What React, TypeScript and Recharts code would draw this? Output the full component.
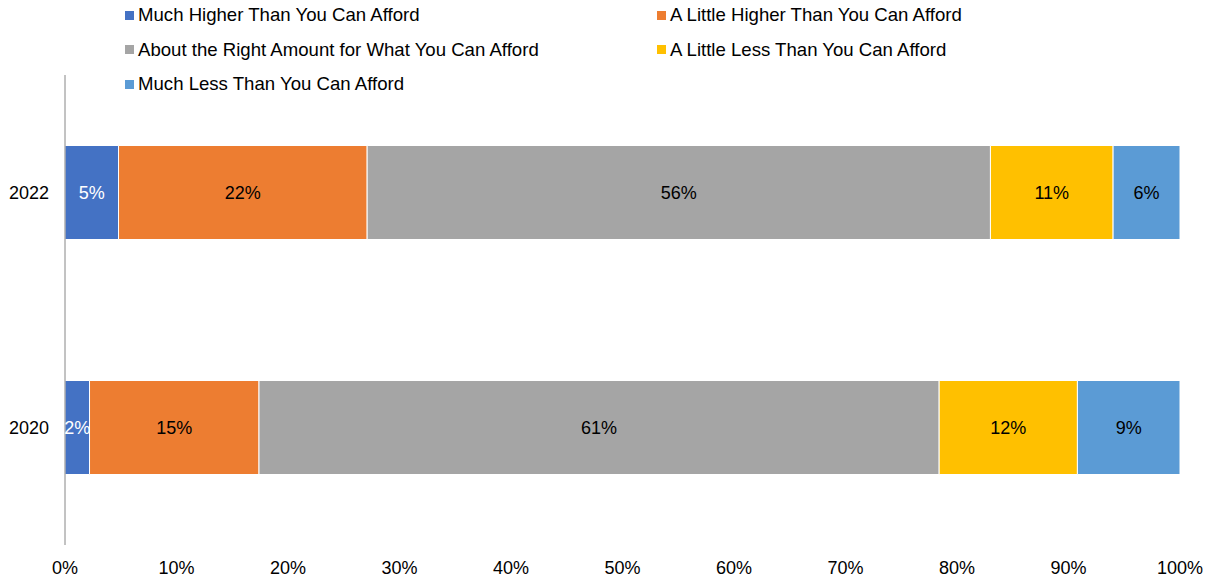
import React from 'react';
import { BarChart, Bar, XAxis, YAxis, LabelList } from 'recharts';

const years = ['2022', '2020'];
const seriesNames = [
    'Much Higher Than You Can Afford',
    'A Little Higher Than You Can Afford',
    'About the Right Amount for What You Can Afford',
    'A Little Less Than You Can Afford',
    'Much Less Than You Can Afford',
];
const seriesColors = ['#4472C4', '#ED7D31', '#A5A5A5', '#FFC000', '#5B9BD5'];
const labelColors = ['#FFFFFF', '#000000', '#000000', '#000000', '#000000'];

// shares per series, in order of years
const muchHigher = [4.8, 2.2];
const littleHigher = [22.3, 15.2];
const aboutRight = [55.9, 61.0];
const littleLess = [11.0, 12.4];
const muchLess = [6.0, 9.2];

const xTicks = [0, 10, 20, 30, 40, 50, 60, 70, 80, 90, 100];

const seriesValues = [muchHigher, littleHigher, aboutRight, littleLess, muchLess];
const keys = ['s0', 's1', 's2', 's3', 's4'];

const data = years.map((year, i) => {
    const row: Record<string, string | number> = { year };
    keys.forEach((k, j) => {
        row[k] = seriesValues[j][i];
    });
    return row;
});

const font = 'Liberation Sans, Arial, sans-serif';

const LegendBox: React.FC = () => (
    <div style={{ position: 'absolute', left: 125, top: 4, width: 1000, fontFamily: font, fontSize: 18.6, color: '#000' }}>
        {seriesNames.map((name, i) => (
            <div
                key={name}
                style={{
                    position: 'absolute',
                    left: i % 2 === 0 ? 0 : 532,
                    top: Math.floor(i / 2) * 34.5,
                    display: 'flex',
                    alignItems: 'center',
                    height: 22,
                    whiteSpace: 'nowrap',
                }}
            >
                <span style={{ display: 'inline-block', width: 9, height: 9, background: seriesColors[i], marginRight: 4 }} />
                {name}
            </div>
        ))}
    </div>
);

const App: React.FC = () => {
    return (
        <div style={{ position: 'absolute', left: 0, top: 0, width: 1212, height: 577, background: '#fff' }}>
            <LegendBox />
            <BarChart
                width={1212}
                height={577}
                data={data}
                layout="vertical"
                margin={{ top: 75, right: 32, bottom: 2, left: 0 }}
                barCategoryGap="30%"
            >
                <XAxis
                    type="number"
                    domain={[0, 100]}
                    ticks={xTicks}
                    tickFormatter={(v: number) => `${v}%`}
                    axisLine={false}
                    tickLine={false}
                    height={30}
                    tickMargin={10}
                    interval={0}
                    tick={{ fill: '#000', fontSize: 18, fontFamily: font }}
                />
                <YAxis
                    type="category"
                    dataKey="year"
                    width={65}
                    axisLine={{ stroke: '#868686', strokeWidth: 1 }}
                    tickLine={false}
                    tickMargin={10}
                    tick={{ fill: '#000', fontSize: 18, fontFamily: font }}
                />
                {keys.map((k, i) => (
                    <Bar
                        key={k}
                        dataKey={k}
                        name={seriesNames[i]}
                        stackId="a"
                        fill={seriesColors[i]}
                        stroke="#FFFFFF"
                        strokeWidth={1}
                        isAnimationActive={false}
                    >
                        <LabelList
                            dataKey={k}
                            position="center"
                            formatter={(v: number) => `${Math.round(v)}%`}
                            fill={labelColors[i]}
                            style={{ fontSize: 18, fontFamily: font }}
                        />
                    </Bar>
                ))}
            </BarChart>
        </div>
    );
};

export default App;
